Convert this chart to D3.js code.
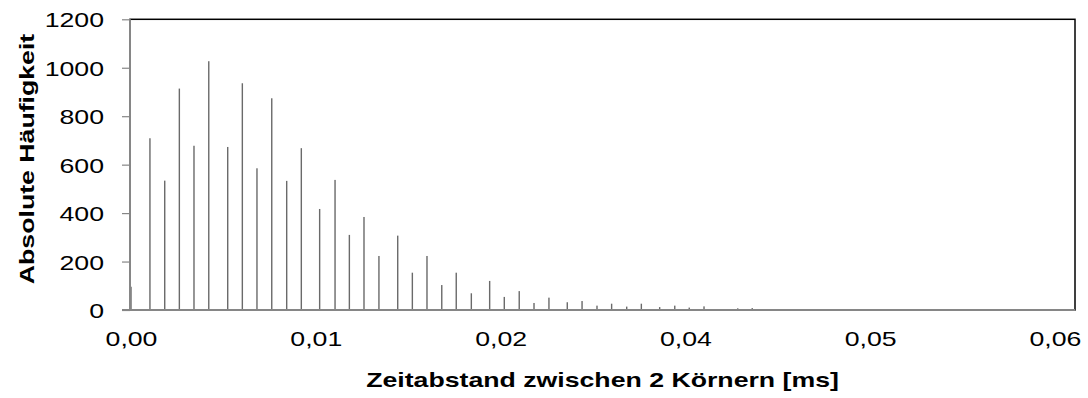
<!DOCTYPE html>
<html>
<head>
<meta charset="utf-8">
<script src="https://cdn.jsdelivr.net/npm/d3@7"></script>
<style>
  html, body { margin: 0; padding: 0; background: #ffffff; }
  svg { display: block; font-family: "Liberation Sans", Arial, sans-serif; }
</style>
</head>
<body>
<svg id="chart" width="1088" height="398"></svg>
<script>
// Histogram of time gaps between two grains
const zeitabstand = [
  0, 0.00123, 0.00219, 0.00314, 0.00409, 0.00505,
  0.00628, 0.00723, 0.00818, 0.00914, 0.01011, 0.01106,
  0.01225, 0.01325, 0.01418, 0.01513, 0.01610,
  0.01732, 0.01827, 0.01922, 0.02018, 0.02112, 0.02210,
  0.02329, 0.02424, 0.02521, 0.02617, 0.02714,
  0.02833, 0.02929, 0.03026, 0.03121, 0.03219, 0.03314,
  0.03433, 0.03531, 0.03625, 0.03721, 0.03940, 0.04034
];
const haeufigkeit = [
  96, 709, 534, 914, 678, 1027,
  673, 936, 585, 874, 533, 668,
  417, 537, 310, 384, 223,
  307, 154, 223, 103, 154, 69,
  120, 54, 78, 29, 51,
  32, 37, 18, 26, 14, 26,
  12, 18, 10, 15, 7, 8
];
const xTicks = [0, 0.012, 0.024, 0.036, 0.048, 0.06];
const yTicks = [0, 200, 400, 600, 800, 1000, 1200];

const xTitle = "Zeitabstand zwischen 2 Körnern [ms]";
const yTitle = "Absolute Häufigkeit";

// layout
const plot = { left: 130, right: 1075, top: 19.3, bottom: 310 };
const stretch = 1.27;      // wide lettering
const fontSize = 21;

const svg = d3.select("#chart");
const de = d3.formatLocale({ decimal: ",", thousands: ".", grouping: [3], currency: ["", " €"] });
const fmtX = de.format(".2f");

const x = d3.scaleLinear().domain([0, 0.0613]).range([131, plot.right]);
const y = d3.scaleLinear().domain([0, 1200]).range([plot.bottom, plot.top]);

// plot frame
svg.append("rect")
  .attr("x", plot.left).attr("y", plot.top)
  .attr("width", plot.right - plot.left)
  .attr("height", plot.bottom - plot.top)
  .attr("fill", "none")
  .attr("stroke", "#000")
  .attr("stroke-width", 1.5);

// bars
svg.append("g").selectAll("rect")
  .data(zeitabstand.map((t, i) => ({ t, n: haeufigkeit[i] })))
  .join("rect")
  .attr("x", d => x(d.t) - 0.7)
  .attr("width", 1.4)
  .attr("y", d => y(d.n))
  .attr("height", d => y(0) - y(d.n))
  .attr("fill", "#6a6a6a");

// y axis
const yAxis = svg.append("g")
  .attr("transform", `translate(${plot.left},0)`)
  .call(d3.axisLeft(y).tickValues(yTicks).tickSize(8).tickFormat(d3.format("d")));
yAxis.select(".domain").remove();
yAxis.selectAll(".tick line").attr("stroke", "#868686").attr("stroke-width", 1.2);
yAxis.selectAll(".tick text")
  .attr("x", -26 / stretch)
  .attr("dy", "0.36em")
  .attr("transform", `scale(${stretch},1)`)
  .attr("fill", "#000")
  .style("font-size", fontSize + "px")
  .style("font-family", "'Liberation Sans', Arial, sans-serif");

// x axis
const xAxis = svg.append("g")
  .attr("transform", `translate(0,${plot.bottom})`)
  .call(d3.axisBottom(x).tickValues(xTicks).tickSize(0).tickPadding(21).tickFormat(fmtX));
xAxis.select(".domain").remove();
xAxis.selectAll(".tick text")
  .attr("transform", `scale(${stretch},1)`)
  .attr("fill", "#000")
  .style("font-size", fontSize + "px")
  .style("font-family", "'Liberation Sans', Arial, sans-serif");

// axis lines
svg.append("line")
  .attr("x1", plot.left).attr("x2", plot.left)
  .attr("y1", plot.top).attr("y2", plot.bottom + 1)
  .attr("stroke", "#868686").attr("stroke-width", 2);
svg.append("line")
  .attr("x1", plot.left - 8).attr("x2", plot.right)
  .attr("y1", plot.bottom).attr("y2", plot.bottom)
  .attr("stroke", "#868686").attr("stroke-width", 2);

// axis titles
svg.append("g")
  .attr("transform", `translate(${(plot.left + plot.right) / 2},387) scale(${stretch},1)`)
  .append("text")
  .attr("text-anchor", "middle")
  .style("font-size", fontSize + "px")
  .style("font-weight", "bold")
  .text(xTitle);

svg.append("g")
  .attr("transform", `translate(33.5,159) rotate(-90) scale(${stretch},1)`)
  .append("text")
  .attr("text-anchor", "middle")
  .style("font-size", fontSize + "px")
  .style("font-weight", "bold")
  .text(yTitle);
</script>
</body>
</html>
